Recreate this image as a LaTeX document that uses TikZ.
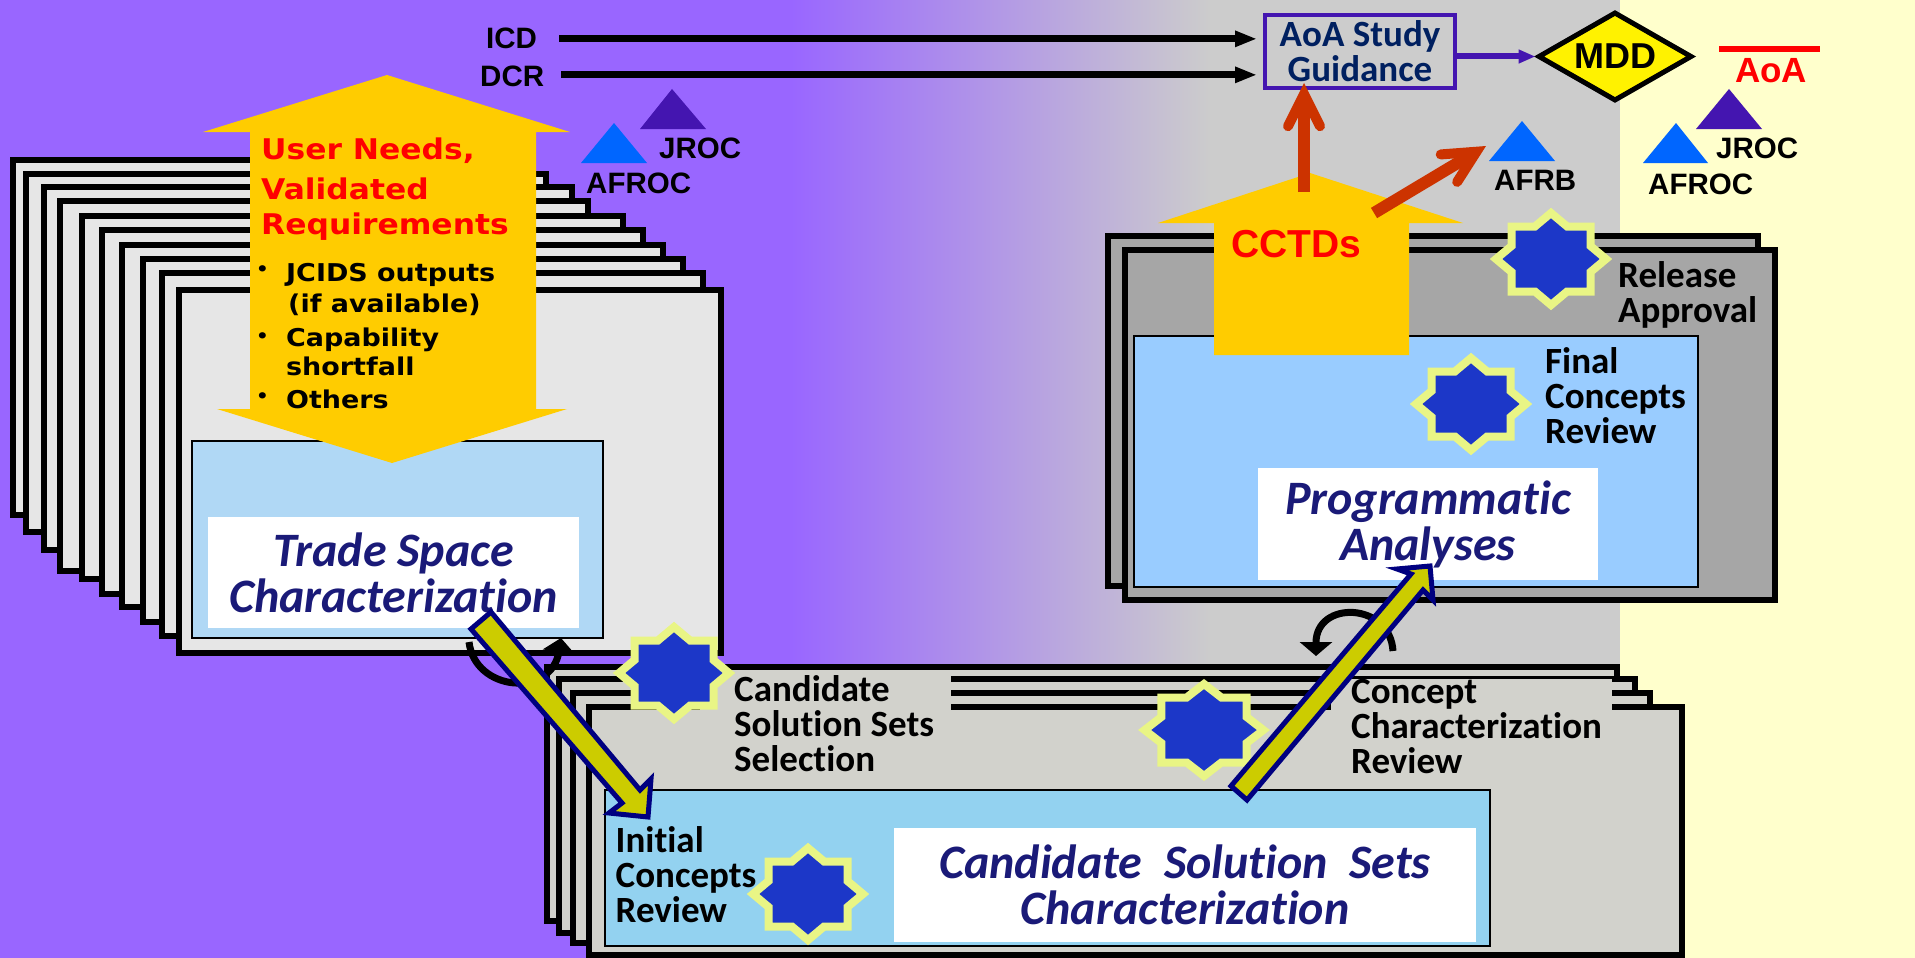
\documentclass[tikz,border=0pt]{standalone}
\usepackage{fontspec}
\usepackage{tikz}
\usetikzlibrary{arrows.meta,shapes.geometric,calc}
\setmainfont[Ligatures=CommonOff]{Carlito}
\newfontfamily\arialfont{Liberation Sans}
\newfontfamily\widefont[FakeStretch=1.1]{DejaVu Sans}
\definecolor{bgpurple}{HTML}{9966FF}
\definecolor{bggray}{HTML}{CCCCCC}
\definecolor{bgcream}{HTML}{FFFFCC}
\definecolor{sheetlight}{HTML}{E6E6E6}
\definecolor{sheetmid}{HTML}{D2D2CC}
\definecolor{sheetdark}{HTML}{A6A6A6}
\definecolor{tradeblue}{HTML}{B0D8F5}
\definecolor{candblue}{HTML}{93D2F0}
\definecolor{progblue}{HTML}{99CCFF}
\definecolor{gold}{HTML}{FFCC00}
\definecolor{navytext}{HTML}{1A1A78}
\definecolor{boxtext}{HTML}{002060}
\definecolor{boardpurple}{HTML}{4415B0}
\definecolor{boardblue}{HTML}{0066FF}
\definecolor{burstblue}{HTML}{1C37C8}
\definecolor{burstrim}{HTML}{E9F585}
\definecolor{olive}{HTML}{CCCC00}
\definecolor{fire}{HTML}{CC3300}
\definecolor{navy}{HTML}{000080}
\tikzset{
  sheetline/.style={draw=black,line width=5.5pt,miter limit=4},
  panel/.style={draw=black,line width=1.5pt},
  titlebox/.style={fill=white,inner sep=0pt,align=center,text=navytext,font=\fontsize{48}{45}\selectfont\bfseries\itshape},
  lab/.style={inner sep=0pt,anchor=base west,align=left,font=\fontsize{37}{35}\selectfont\bfseries},
  board/.style={inner sep=0pt,anchor=base west,font=\fontsize{29.5}{30}\arialfont\bfseries},
  needs/.style={inner sep=0pt,anchor=base west,text=red,font=\fontsize{28.5}{30}\widefont\bfseries},
  inputs/.style={inner sep=0pt,anchor=base west,font=\fontsize{24.5}{26}\widefont\bfseries},
  dotmark/.style={inner sep=0pt,anchor=base west,font=\fontsize{18}{20}\widefont\bfseries},
  feedline/.style={black,line width=7pt,-{Triangle[length=22pt,width=15pt]}},
  firearrow/.style={fire,line width=12pt,-{Straight Barb[length=32pt,width=32pt,line width=10pt,line cap=round,line join=miter]}},
  loopline/.style={black,line width=7pt,-{Triangle[length=14pt,width=32pt]}},
  bigarrow/.style={draw=navy,line width=5pt,fill=olive,miter limit=10},
  burst/.pic={
    \draw [draw=burstrim,fill=burstblue,line width=8pt] (0,-46)--(16.1,-32.5)--(39.5,-32.5)--(39.5,-13)--(55,0)--(39.5,13)--(39.5,32.5)--(16.1,32.5)--(0,46)--(-16.1,32.5)--(-39.5,32.5)--(-39.5,13)--(-55,0)--(-39.5,-13)--(-39.5,-32.5)--(-16.1,-32.5)--cycle;
  }
}
\begin{document}
\begin{tikzpicture}[x=1pt,y=-1pt]
\useasboundingbox (0,0) rectangle (1915,958);
\fill [bgpurple] (0,0) rectangle (800,958);
\shade [left color=bgpurple,right color=bggray] (790,0) rectangle (1210,958);
\fill [bggray] (1209,0) rectangle (1620,958);
\fill [bgcream] (1620,0) rectangle (1915,958);

\draw [sheetline,fill=sheetlight] (13,160) rectangle (530,515);
\draw [sheetline,fill=sheetlight] (26,174) rectangle (546,532);
\draw [sheetline,fill=sheetlight] (44,187) rectangle (572,550);
\draw [sheetline,fill=sheetlight] (60,201) rectangle (588,571);
\draw [sheetline,fill=sheetlight] (82,216) rectangle (623,579);
\draw [sheetline,fill=sheetlight] (102,230) rectangle (643,594);
\draw [sheetline,fill=sheetlight] (122,245) rectangle (663,607);
\draw [sheetline,fill=sheetlight] (143,259) rectangle (683,622);
\draw [sheetline,fill=sheetlight] (162,273) rectangle (703,636);
\draw [sheetline,fill=sheetlight] (179,290) rectangle (721,653);
\draw [panel,fill=tradeblue] (192,441) rectangle (603,638);
\node [titlebox,minimum width=371pt,minimum height=111pt] (trade) at (393.5,572.5) {\raisebox{2pt}{Trade Space}\\[-1pt]Characterization};

\fill [gold] (387,75)--(570,132)--(536,132)--(536,409)--(567,409)--(392,463)--(217,409)--(250,409)--(250,132)--(203,132)--cycle;
\node [needs] (needsa) at (261,159) {User Needs,};
\node [needs] (needsb) at (261,199) {Validated};
\node [needs] (needsc) at (261,234) {Requirements};
\node [dotmark] (dota) at (256,275) {•};
\node [dotmark] (dotb) at (256,342) {•};
\node [dotmark] (dotc) at (256,402) {•};
\node [inputs] (inputa) at (286,281) {JCIDS outputs};
\node [inputs] (inputb) at (288,312) {(if available)};
\node [inputs] (inputc) at (286,346) {Capability};
\node [inputs] (inputd) at (286,375) {shortfall};
\node [inputs] (inpute) at (286,408) {Others};

\fill [boardpurple] (672,89)--(706,129)--(640,129)--cycle;
\fill [boardblue] (614,123)--(647,163)--(581,163)--cycle;
\node [board] (jrocleft) at (659,158) {JROC};
\node [board] (afrocleft) at (586,193) {AFROC};

\draw [sheetline,fill=sheetmid] (547,667) rectangle (1617,921);
\draw [sheetline,fill=sheetmid] (559,679) rectangle (1635,933);
\draw [sheetline,fill=sheetmid] (573,693) rectangle (1650,943);
\draw [sheetline,fill=sheetmid] (589,707) rectangle (1682,955);
\fill [sheetmid] (700,670) rectangle (951,790);
\fill [sheetmid] (1331,679) rectangle (1612,790);
\draw [panel,fill=candblue] (605,790) rectangle (1490,946);
\node [titlebox,minimum width=582pt,minimum height=114pt] (cand) at (1185,885) {\raisebox{2pt}{Candidate~~Solution~~Sets}\\[-1pt]Characterization};
\node [lab] (candsel) at (734,771) {Candidate\\Solution Sets\\Selection};
\node [lab] (concrev) at (1351,773) {Concept\\Characterization\\Review};
\node [lab] (initrev) at (615.5,922) {Initial\\Concepts\\Review};
\pic at (674,673) {burst};
\pic [xscale=1.08] at (1204,730) {burst};
\pic at (808,894) {burst};

\coordinate (loopa) at (469,642);
\coordinate (loopb) at (561,638);
\coordinate (loopc) at (1393,651);
\coordinate (loopd) at (1316,656);
\draw [loopline] (loopa) .. controls (475,692) and (552,698) .. (loopb);
\draw [bigarrow] (491,612)--(471,629)--(622,803)--(609,813)--(648,817)--(651,779)--(640,790)--cycle;

\draw [sheetline,fill=sheetdark] (1108,236) rectangle (1758,586);
\draw [sheetline,fill=sheetdark] (1125,250) rectangle (1775,600);
\draw [panel,fill=progblue] (1134,336) rectangle (1698,587);
\node [titlebox,minimum width=340pt,minimum height=112pt] (prog) at (1428,524) {\raisebox{2pt}{Programmatic}\\[-1pt]Analyses};
\node [lab] (finalrev) at (1545,443) {Final\\Concepts\\Review};
\node [lab] (release) at (1618,322) {Release\\Approval};
\pic at (1551,259) {burst};
\pic at (1471,404) {burst};

\draw [loopline] (loopc) .. controls (1390,602) and (1316,600) .. (loopd);
\draw [bigarrow] (1247,800)--(1231,786)--(1411,574)--(1397,569)--(1430,566)--(1433,600)--(1423,590)--cycle;

\fill [gold] (1310,173)--(1463,223)--(1409,223)--(1409,355)--(1214,355)--(1214,223)--(1158,223)--cycle;
\node [inner sep=0pt,anchor=base west,text=red,font=\fontsize{39}{39}\arialfont\bfseries] (cctd) at (1231,257) {CCTDs};

\node [board] (icd) at (486,49) {ICD};
\node [board] (dcr) at (480,87) {DCR};
\node [draw=boardpurple,line width=4pt,fill=bggray,text=boxtext,align=center,minimum width=190pt,minimum height=73pt,inner sep=0pt,font=\fontsize{37}{35}\selectfont\bfseries] (aoa) at (1360,51.5) {AoA Study\\Guidance};
\node [diamond,draw=black,line width=5pt,fill=yellow,minimum width=154pt,minimum height=89pt,aspect=1.8,inner sep=0pt,font=\fontsize{36}{36}\arialfont\bfseries] (mdd) at (1615,56.5) {MDD};
\draw [feedline,shorten <=22pt,shorten >=6pt] (icd.east) -- (icd -| aoa.west);
\draw [feedline,shorten <=17pt,shorten >=6pt] ([yshift=2pt]dcr.east) -- ([yshift=2pt]dcr -| aoa.west);
\draw [boardpurple,line width=6pt,-{Triangle[length=17pt,width=13pt]}] (mdd -| aoa.east) -- (mdd.west);

\coordinate (fireupa) at (1304,192);
\coordinate (fireupb) at (1304,83);
\coordinate (fireoffa) at (1374,213);
\coordinate (fireoffb) at (1486,146);
\draw [firearrow] (fireupa) -- (fireupb);
\draw [firearrow] (fireoffa) -- (fireoffb);

\fill [boardblue] (1522,121)--(1555,161)--(1489,161)--cycle;
\node [board] (afrb) at (1494,190) {AFRB};
\draw [red,line width=6pt] (1719,49) -- (1820,49);
\node [inner sep=0pt,anchor=base west,text=red,font=\fontsize{35}{35}\arialfont\bfseries] (aoalab) at (1735,83) {AoA};
\fill [boardpurple] (1729,89)--(1762,129)--(1696,129)--cycle;
\fill [boardblue] (1676,123)--(1708,163)--(1643,163)--cycle;
\node [board] (jrocright) at (1716,158) {JROC};
\node [board] (afrocright) at (1648,194) {AFROC};
\end{tikzpicture}
\end{document}
